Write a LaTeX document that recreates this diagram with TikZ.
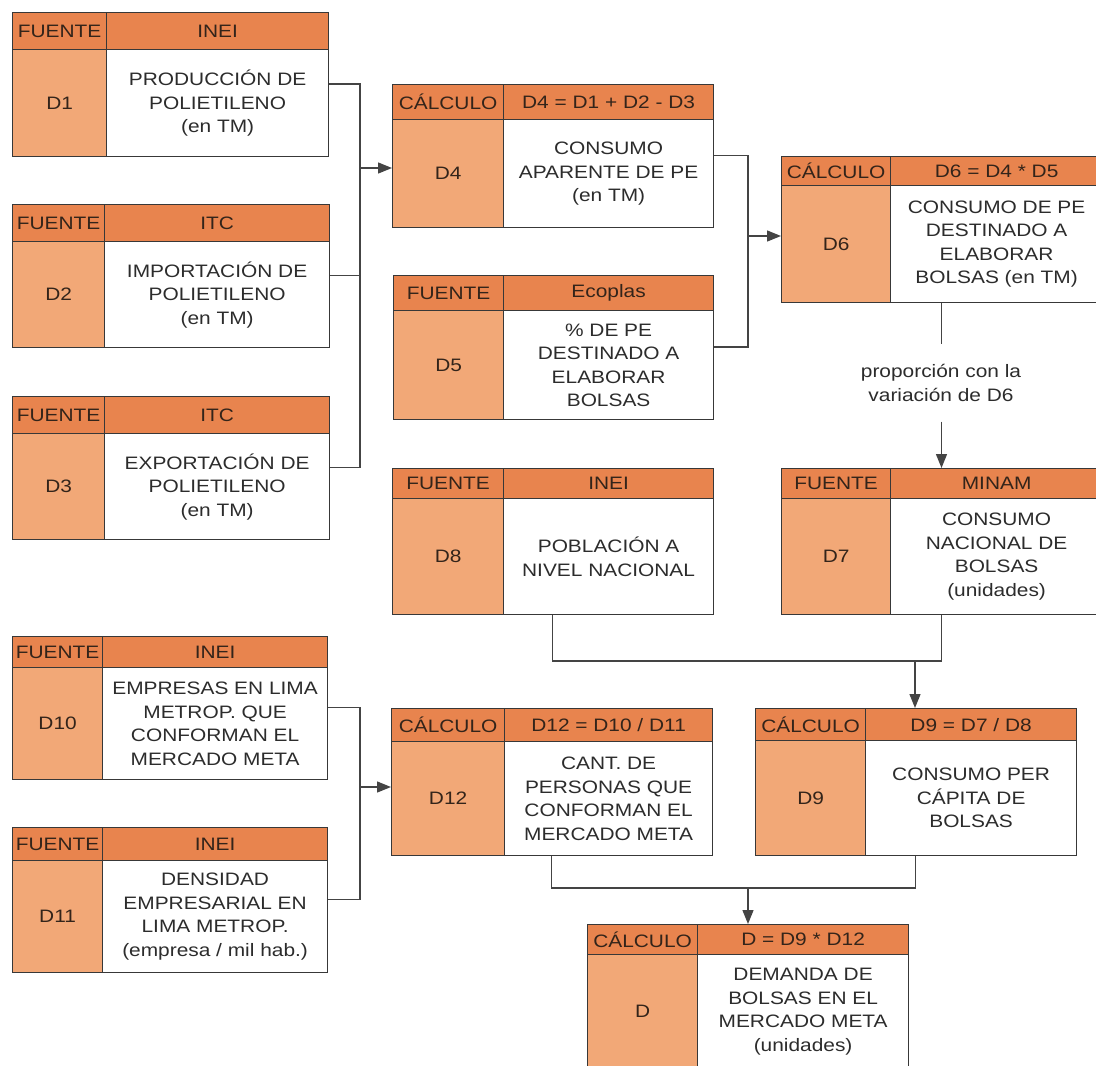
\documentclass[tikz,border=0pt]{standalone}
\usepackage{fontspec}
\setmainfont{Liberation Sans}[FakeStretch=1.16]
\usetikzlibrary{arrows.meta,calc}
\definecolor{hdr}{HTML}{E8844E}
\definecolor{idc}{HTML}{F2A877}
\definecolor{bord}{HTML}{383838}
\definecolor{txt}{HTML}{2C2C2C}
\definecolor{htxt}{HTML}{33241A}
\definecolor{lncol}{HTML}{444444}
\tikzset{
  cell/.style={draw=bord, line width=1.2pt, inner sep=0pt, anchor=north west,
    align=center, font=\fontsize{18}{23.5}\selectfont},
  hcell/.style={cell, fill=hdr, text=htxt},
  idcell/.style={cell, fill=idc, text=htxt},
  txtcell/.style={cell, fill=white, text=txt},
  conn/.style={draw=lncol, line width=1.3pt},
  arr/.style={conn, -{Triangle[length=14pt,width=11pt]}},
  lbl/.style={inner sep=0pt, align=center, text=txt,
    font=\fontsize{18}{24}\selectfont}
}
\newcommand{\dbox}[7]{\def\bxn{#1}\def\bxl{#2}\def\bxt{#3}\def\bxs{#4}\def\bxr{#5}\def\bxh{#6}\def\bxb{#7}}
\newcommand{\dcells}[4]{%
  \node[hcell, minimum width={(\bxs-\bxl)*1pt}, minimum height={(\bxh-\bxt)*1pt}] (\bxn hl) at (\bxl,\bxt) {#1};
  \node[hcell, minimum width={(\bxr-\bxs)*1pt}, minimum height={(\bxh-\bxt)*1pt}] (\bxn hr) at (\bxs,\bxt) {#2};
  \node[idcell, minimum width={(\bxs-\bxl)*1pt}, minimum height={(\bxb-\bxh)*1pt}] (\bxn bl) at (\bxl,\bxh) {#3};
  \node[txtcell, minimum width={(\bxr-\bxs)*1pt}, minimum height={(\bxb-\bxh)*1pt}] (\bxn br) at (\bxs,\bxh) {#4};
  \coordinate (\bxn c) at ({(\bxl+\bxr)/2},{(\bxt+\bxb)/2});
}
\begin{document}
\begin{tikzpicture}[x=1pt,y=-1pt]
\useasboundingbox (0,0) rectangle (1096,1066);
\fill[white] (0,0) rectangle (1096,1066);
\clip (0,0) rectangle (1096,1066);

\dbox{d1}{12}{12}{106}{328}{49}{156}
\dcells{FUENTE}{INEI}{D1}{PRODUCCIÓN DE\\POLIETILENO\\(en TM)}
\dbox{d2}{12}{204}{104}{329}{241}{347}
\dcells{FUENTE}{ITC}{D2}{IMPORTACIÓN DE\\POLIETILENO\\(en TM)}
\dbox{d3}{12}{396}{104}{329}{433}{539}
\dcells{FUENTE}{ITC}{D3}{EXPORTACIÓN DE\\POLIETILENO\\(en TM)}
\dbox{d4}{392}{84}{503}{713}{119}{227}
\dcells{CÁLCULO}{D4 = D1 + D2 - D3}{D4}{CONSUMO\\APARENTE DE PE\\(en TM)}
\dbox{d5}{393}{275}{503}{713}{310}{419}
\dcells{FUENTE}{Ecoplas}{D5}{\% DE PE\\DESTINADO A\\ELABORAR\\BOLSAS}
\dbox{d6}{781}{156}{890}{1102}{185}{302}
\dcells{CÁLCULO}{D6 = D4 * D5}{D6}{CONSUMO DE PE\\DESTINADO A\\ELABORAR\\BOLSAS (en TM)}
\dbox{d7}{781}{468}{890}{1102}{498}{614}
\dcells{FUENTE}{MINAM}{D7}{CONSUMO\\NACIONAL DE\\BOLSAS\\(unidades)}
\dbox{d8}{392}{468}{503}{713}{498}{614}
\dcells{FUENTE}{INEI}{D8}{POBLACIÓN A\\NIVEL NACIONAL}
\dbox{d9}{755}{708}{865}{1076}{740}{855}
\dcells{CÁLCULO}{D9 = D7 / D8}{D9}{CONSUMO PER\\CÁPITA DE\\BOLSAS}
\dbox{d10}{12}{636}{102}{327}{667}{779}
\dcells{FUENTE}{INEI}{D10}{EMPRESAS EN LIMA\\METROP. QUE\\CONFORMAN EL\\MERCADO META}
\dbox{d11}{12}{827}{102}{327}{860}{972}
\dcells{FUENTE}{INEI}{D11}{DENSIDAD\\EMPRESARIAL EN\\LIMA METROP.\\(empresa / mil hab.)}
\dbox{d12}{391}{708}{504}{712}{741}{855}
\dcells{CÁLCULO}{D12 = D10 / D11}{D12}{CANT. DE\\PERSONAS QUE\\CONFORMAN EL\\MERCADO META}
\dbox{dd}{587}{924}{697}{908}{954}{1068}
\dcells{CÁLCULO}{D = D9 * D12}{D}{DEMANDA DE\\BOLSAS EN EL\\MERCADO META\\(unidades)}

% junctions
\coordinate (jA) at (360,168);
\coordinate (jB) at (748,236);
\coordinate (jC) at (915,661);
\coordinate (jD) at (360,787);
\coordinate (jE) at (748,888);

% D1,D2,D3 -> D4
\draw[conn] (d1br.east |- d1c) -| (jA |- d3c) -- (d3br.east |- d3c);
\draw[conn] (d2br.east |- d2c) -- (jA |- d2c);
\draw[arr] (jA) -- (d4bl.west |- jA);

% D4,D5 -> D6
\draw[conn] (d4br.east |- d4c) -| (jB |- d5c) -- (d5br.east |- d5c);
\draw[arr] (jB) -- (d6bl.west |- jB);

% D6 -> D7 with label
\node[lbl, minimum height=77pt] (lab) at (941,383) {proporción con la\\variación de D6};
\draw[conn] (d6c |- d6br.south) -- (lab.north -| d6c);
\draw[arr] (lab.south -| d6c) -- (d7c |- d7hr.north);

% D8,D7 -> D9
\draw[conn] (d8c |- d8br.south) |- (d7c |- jC) -- (d7c |- d7br.south);
\draw[arr] (jC) -- (jC |- d9hr.north);

% D10,D11 -> D12
\draw[conn] (d10br.east |- d10c) -| (jD |- d11c) -- (d11br.east |- d11c);
\draw[arr] (jD) -- (d12bl.west |- jD);

% D12,D9 -> D
\draw[conn] (d12c |- d12br.south) |- (d9c |- jE) -- (d9c |- d9br.south);
\draw[arr] (jE) -- (jE |- ddhr.north);
\end{tikzpicture}
\end{document}
